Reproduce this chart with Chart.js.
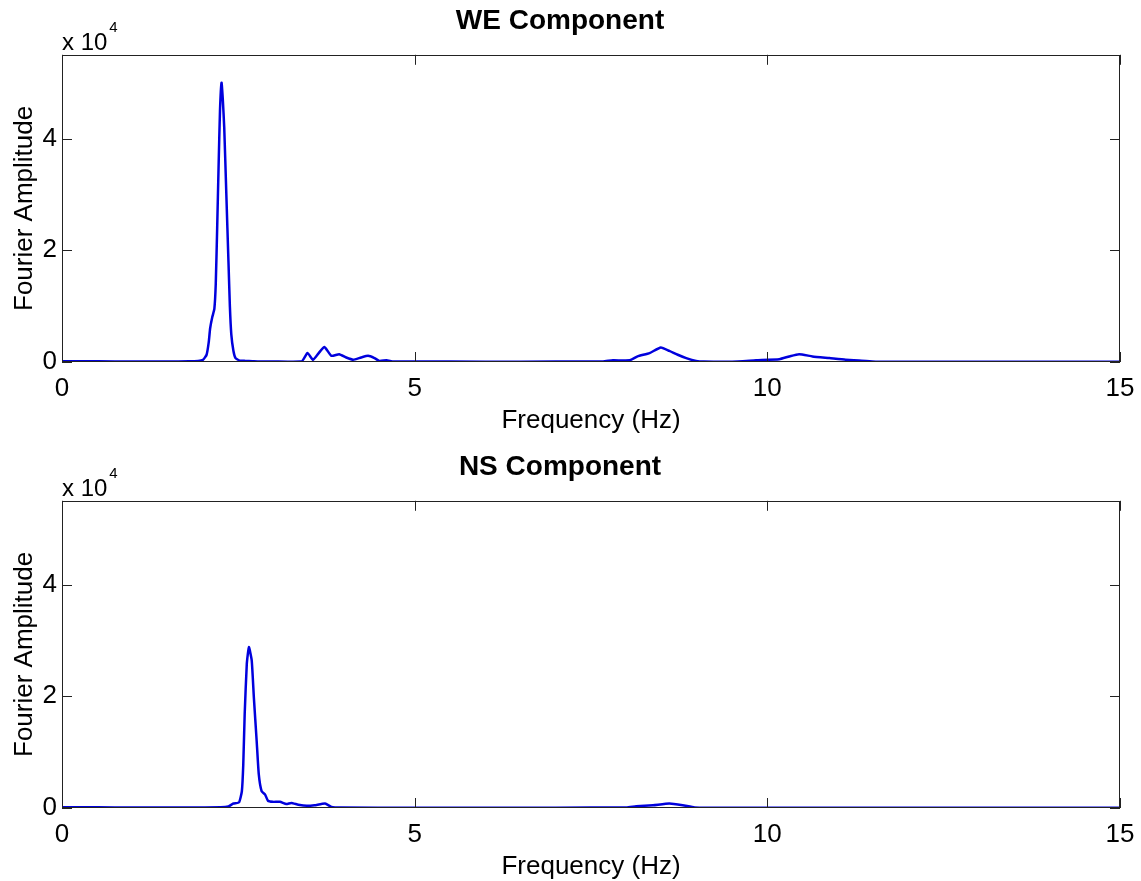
<!DOCTYPE html>
<html>
<head>
<meta charset="utf-8">
<script src="https://cdn.jsdelivr.net/npm/chart.js@4.4.0/dist/chart.umd.min.js"></script>
<style>
  html, body { margin: 0; padding: 0; background: #fff; overflow: hidden; }
  .panel { position: absolute; left: 0; width: 1141px; height: 440px; }
  #p1 { top: 0; }
  #p2 { top: 446px; }
</style>
</head>
<body>
<div class="panel" id="p1"><canvas id="we"></canvas></div>
<div class="panel" id="p2"><canvas id="ns"></canvas></div>
<script>
// axis ticks
const xTicks = [0, 5, 10, 15];
const yTicks = [0, 20000, 40000];

// WE component
const weFreq = [0, 0.5, 1.0, 1.5, 1.8, 1.93, 2.00, 2.05, 2.08, 2.10, 2.13, 2.16, 2.18, 2.20, 2.22, 2.24, 2.262, 2.28, 2.30, 2.33, 2.36, 2.38, 2.40, 2.43, 2.46, 2.52, 2.60, 2.70, 2.80, 3.0, 3.40, 3.48, 3.56, 3.64, 3.72, 3.82, 3.93, 4.03, 4.13, 4.24, 4.34, 4.43, 4.50, 4.60, 4.70, 5.0, 6.0, 7.0, 7.67, 7.81, 8.05, 8.16, 8.33, 8.49, 8.61, 8.73, 8.85, 8.99, 9.10, 9.5, 9.84, 10.17, 10.31, 10.45, 10.64, 10.88, 11.11, 11.40, 11.55, 12, 13, 14, 15];
const weAmp = [150, 120, 100, 100, 120, 200, 400, 1300, 3500, 6000, 8000, 9500, 14000, 24000, 35000, 45000, 50000, 47000, 42000, 30000, 18000, 10000, 5000, 2000, 700, 250, 200, 150, 100, 80, 150, 1600, 400, 1600, 2700, 1100, 1400, 800, 400, 800, 1100, 700, 200, 300, 100, 80, 60, 70, 100, 300, 300, 1000, 1600, 2600, 2000, 1300, 700, 200, 80, 60, 300, 500, 1000, 1400, 1000, 700, 400, 200, 60, 50, 40, 40, 40];

// NS component
const nsFreq = [0, 0.5, 1.0, 1.5, 2.0, 2.25, 2.36, 2.43, 2.51, 2.55, 2.57, 2.59, 2.62, 2.65, 2.69, 2.72, 2.76, 2.79, 2.83, 2.88, 2.92, 2.99, 3.09, 3.18, 3.25, 3.35, 3.47, 3.58, 3.73, 3.82, 3.95, 5, 6, 7, 8.0, 8.14, 8.38, 8.61, 8.80, 8.97, 9.2, 10, 11, 12, 13, 14, 15];
const nsAmp = [150, 120, 100, 100, 100, 120, 300, 800, 1000, 3000, 7800, 16800, 25800, 28800, 26400, 19800, 12000, 6000, 3000, 2400, 1300, 1100, 1100, 700, 900, 600, 400, 500, 800, 200, 80, 60, 60, 60, 100, 300, 500, 800, 500, 100, 60, 50, 50, 40, 40, 40, 40];

Chart.defaults.font.family = "'Liberation Sans', Arial, sans-serif";
Chart.defaults.color = "#000";

// MATLAB style box, inward ticks and exponent label
const matlabBox = {
  id: "matlabBox",
  afterDraw(chart) {
    const { ctx, chartArea: a, scales } = chart;
    ctx.save();
    ctx.strokeStyle = "#222";
    ctx.lineWidth = 1;
    ctx.strokeRect(Math.round(a.left) + 0.5, Math.round(a.top) + 0.5,
      Math.round(a.right - a.left) - 1, Math.round(a.bottom - a.top) - 1);
    ctx.beginPath();
    xTicks.forEach(v => {
      const px = Math.round(scales.x.getPixelForValue(v)) + 0.5;
      ctx.moveTo(px, a.bottom); ctx.lineTo(px, a.bottom - 10);
      ctx.moveTo(px, a.top); ctx.lineTo(px, a.top + 10);
    });
    yTicks.forEach(v => {
      const py = Math.round(scales.y.getPixelForValue(v)) + 0.5;
      ctx.moveTo(a.left, py); ctx.lineTo(a.left + 10, py);
      ctx.moveTo(a.right, py); ctx.lineTo(a.right - 10, py);
    });
    ctx.stroke();

    ctx.fillStyle = "#000";
    ctx.textAlign = "left";
    ctx.textBaseline = "alphabetic";
    ctx.font = "24px 'Liberation Sans', Arial, sans-serif";
    const w = ctx.measureText("x 10").width;
    ctx.fillText("x 10", a.left, a.top - 5);
    ctx.font = "15px 'Liberation Sans', Arial, sans-serif";
    ctx.fillText("4", a.left + w + 2, a.top - 23);
    ctx.restore();
  }
};

function makeChart(id, title, freq, amp) {
  return new Chart(document.getElementById(id), {
    type: "line",
    data: {
      datasets: [{
        data: freq.map((f, i) => ({ x: f, y: amp[i] })),
        borderColor: "#0000dd",
        borderWidth: 2.5,
        pointRadius: 0,
        tension: 0.15,
        fill: false
      }]
    },
    options: {
      responsive: true,
      maintainAspectRatio: false,
      animation: false,
      devicePixelRatio: 1,
      layout: { padding: { left: 0, right: 21, top: 0, bottom: 0 } },
      plugins: {
        legend: { display: false },
        tooltip: { enabled: false },
        title: {
          display: true,
          text: title,
          font: { size: 28, weight: "bold" },
          padding: { top: 4, bottom: 17.2 }
        }
      },
      scales: {
        x: {
          type: "linear",
          min: 0,
          max: 15,
          afterBuildTicks: s => { s.ticks = xTicks.map(v => ({ value: v })); },
          afterFit: s => { s.height = 78; s.paddingLeft = 0; s.paddingRight = 0; },
          grid: { display: false, drawTicks: false },
          border: { display: false },
          ticks: { font: { size: 26 }, padding: 11, maxRotation: 0, callback: v => String(v) },
          title: { display: true, text: "Frequency (Hz)", font: { size: 26 }, padding: { top: 0, bottom: 4 } }
        },
        y: {
          min: 0,
          max: 55000,
          afterBuildTicks: s => { s.ticks = yTicks.map(v => ({ value: v })); },
          afterFit: s => { s.width = 62; },
          grid: { display: false, drawTicks: false },
          border: { display: false },
          ticks: { font: { size: 26 }, padding: 5, callback: v => String(v / 10000) },
          title: { display: true, text: "Fourier Amplitude", font: { size: 26 }, padding: { top: 9, bottom: 0 } }
        }
      }
    },
    plugins: [matlabBox]
  });
}

makeChart("we", "WE Component", weFreq, weAmp);
makeChart("ns", "NS Component", nsFreq, nsAmp);
</script>
</body>
</html>
